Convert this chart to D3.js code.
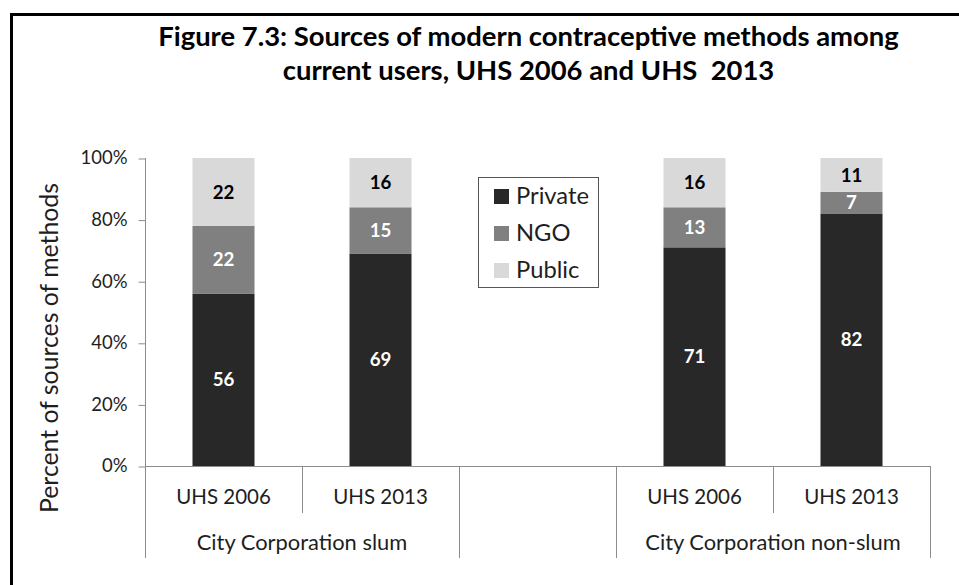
<!DOCTYPE html>
<html>
<head>
<meta charset="utf-8">
<script src="https://cdn.jsdelivr.net/npm/d3@7"></script>
<style>
  html, body { margin: 0; padding: 0; background: #fff; }
  svg { display: block; }
  .title { white-space: pre; }
</style>
</head>
<body>
<svg id="chart" width="959" height="585"></svg>
<script>
// ---------- data ----------
const groups = ["City Corporation slum", "City Corporation non-slum"];
const surveys = ["UHS 2006", "UHS 2013"];
const seriesNames = ["Private", "NGO", "Public"];
const privateVals = [56, 69, 71, 82];
const ngoVals = [22, 15, 13, 7];
const publicVals = [22, 16, 16, 11];
const yTicks = [0, 20, 40, 60, 80, 100];
const titleLines = ["Figure 7.3: Sources of modern contraceptive methods among",
                    "current users, UHS 2006 and UHS  2013"];
const yLabel = "Percent of sources of methods";

// ---------- build table ----------
const slots = ["g0|0", "g0|1", "gap", "g1|0", "g1|1"];
const barSlots = ["g0|0", "g0|1", "g1|0", "g1|1"];
const rows = barSlots.map((s, i) => ({
  slot: s,
  survey: surveys[+s.split("|")[1]],
  Private: privateVals[i], NGO: ngoVals[i], Public: publicVals[i]
}));

const F = "Lato, 'Open Sans', sans-serif";
const svg = d3.select("#chart");

function fit(text, weight, target) {
  const t = svg.append("text").attr("font-family", F).attr("font-weight", weight)
    .attr("font-size", 100).text(text);
  const w = t.node().getComputedTextLength();
  t.remove();
  return 100 * target / w;
}

const colors = d3.scaleOrdinal().domain(seriesNames).range(["#282828", "#808080", "#d9d9d9"]);
const labelColors = { Private: "#ffffff", NGO: "#ffffff", Public: "#000000" };
const axisColor = "#8c8c8c";
const textColor = "#1e1e1e";

// ---------- scales ----------
const x = d3.scaleBand().domain(slots).range([145, 930]).paddingInner(0.605).paddingOuter(0.3025);
const y = d3.scaleLinear().domain([0, 100]).range([466, 158]);

// ---------- border ----------
svg.append("rect").attr("x", 11.5).attr("y", 14.5).attr("width", 1200).attr("height", 1200)
  .attr("fill", "none").attr("stroke", "#000").attr("stroke-width", 3);

// ---------- title ----------
const titleSize = fit(titleLines[0], "bold", 741);
svg.append("g").selectAll("text").data(titleLines).join("text")
  .attr("class", "title")
  .attr("xml:space", "preserve")
  .attr("x", 528.5).attr("y", (d, i) => 46 + i * 34)
  .attr("text-anchor", "middle").attr("font-family", F).attr("font-weight", "bold")
  .attr("font-size", titleSize).attr("fill", "#000").text(d => d);

// ---------- y axis ----------
const tickSize = fit("100%", "normal", 47);
const yAxis = d3.axisLeft(y).tickValues(yTicks).tickFormat(d => d + "%").tickSize(7).tickPadding(11);
const yg = svg.append("g").attr("transform", "translate(145.5,0)").call(yAxis);
yg.selectAll(".tick line").attr("stroke", axisColor).attr("transform", "translate(0,0.5)");
yg.selectAll(".tick text").attr("font-family", F).attr("font-size", tickSize).attr("fill", textColor);
yg.select(".domain").remove();
svg.append("line").attr("x1", 145.5).attr("x2", 145.5).attr("y1", y(100)).attr("y2", y(0))
  .attr("stroke", axisColor);

const yLabSize = fit(yLabel, "normal", 330);
svg.append("text").attr("transform", "translate(58,348) rotate(-90)")
  .attr("text-anchor", "middle").attr("font-family", F).attr("font-size", yLabSize)
  .attr("fill", textColor).text(yLabel);

// ---------- bars ----------
const stack = d3.stack().keys(seriesNames);
const stacked = stack(rows);
const layers = svg.append("g").selectAll("g").data(stacked).join("g")
  .attr("fill", d => colors(d.key));
layers.selectAll("rect").data(d => d).join("rect")
  .attr("x", d => x(d.data.slot))
  .attr("width", x.bandwidth())
  .attr("y", d => y(d[1]))
  .attr("height", d => y(d[0]) - y(d[1]));

const valSize = fit("56", "bold", 21.7);
stacked.forEach(layer => {
  svg.append("g").selectAll("text").data(layer).join("text")
    .attr("x", d => x(d.data.slot) + x.bandwidth() / 2)
    .attr("y", d => (y(d[0]) + y(d[1])) / 2)
    .attr("dy", "0.36em")
    .attr("text-anchor", "middle").attr("font-family", F).attr("font-weight", "bold")
    .attr("font-size", valSize).attr("fill", labelColors[layer.key])
    .text(d => d.data[layer.key]);
});

// ---------- category axis ----------
const step = x.step();
const x0 = x.range()[0];
const ag = svg.append("g");
ag.append("line").attr("x1", x0).attr("x2", x.range()[1] + 0.5).attr("y1", y(0) + 0.5).attr("y2", y(0) + 0.5)
  .attr("stroke", axisColor);
// slot boundaries: long at group edges, short inside groups
const boundaries = [0, 1, 2, 3, 4, 5];
const shortIdx = [1, 4];
ag.selectAll("line.sep").data(boundaries).join("line").attr("class", "sep")
  .attr("x1", i => Math.round(x0 + i * step) + 0.5).attr("x2", i => Math.round(x0 + i * step) + 0.5)
  .attr("y1", y(0)).attr("y2", i => shortIdx.includes(i) ? 513 : 558)
  .attr("stroke", axisColor);

const catSize = fit("UHS 2006", "normal", 94.7);
ag.selectAll("text.cat").data(rows).join("text").attr("class", "cat")
  .attr("x", d => x(d.slot) + x.bandwidth() / 2).attr("y", 504)
  .attr("text-anchor", "middle").attr("font-family", F).attr("font-size", catSize)
  .attr("fill", textColor).text(d => d.survey);

const grpSize = fit(groups[0], "normal", 210.7);
ag.selectAll("text.grp").data(groups).join("text").attr("class", "grp")
  .attr("x", (d, i) => x0 + (i === 0 ? 1 : 4) * step)
  .attr("y", 550)
  .attr("text-anchor", "middle").attr("font-family", F).attr("font-size", grpSize)
  .attr("fill", textColor).text(d => d);

// ---------- legend ----------
const lg = svg.append("g");
lg.append("rect").attr("x", 478.5).attr("y", 177.5).attr("width", 120).attr("height", 110)
  .attr("fill", "#fff").attr("stroke", "#555");
const legSize = fit("Private", "normal", 73);
const li = lg.selectAll("g").data(seriesNames).join("g")
  .attr("transform", (d, i) => `translate(494,${189 + i * 37})`);
li.append("rect").attr("width", 15).attr("height", 15).attr("fill", d => colors(d));
li.append("text").attr("x", 22).attr("y", 15).attr("font-family", F).attr("font-size", legSize)
  .attr("fill", textColor).text(d => d);
</script>
</body>
</html>
